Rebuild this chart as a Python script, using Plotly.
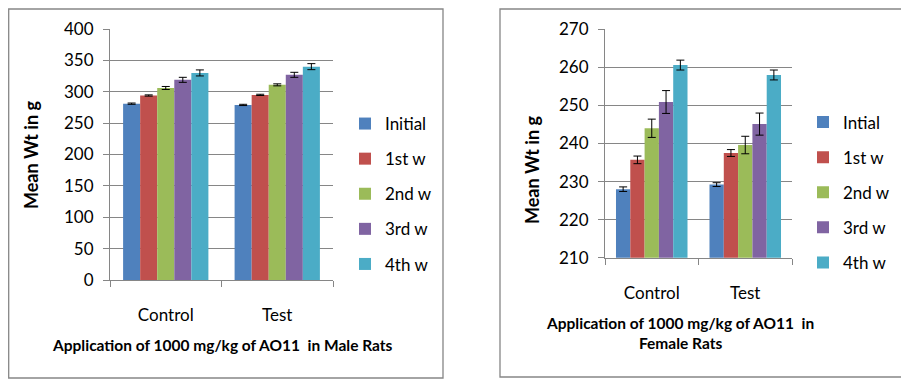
import plotly.graph_objects as go

groups = ["Control", "Test"]
male_series = ["Initial", "1st w", "2nd w", "3rd w", "4th w"]
female_series = ["Intial", "1st w", "2nd w", "3rd w", "4th w"]
colors = ["#4F81BD", "#C0504D", "#9BBB59", "#8064A2", "#4BACC6"]

male_control = [281, 294, 306, 319, 330]
male_test = [279, 295, 311, 327, 340]
male_control_err = [1, 1, 2.4, 4, 4.8]
male_test_err = [1, 1, 1.6, 4, 4.8]

female_control = [228, 235.7, 244, 250.9, 260.6]
female_test = [229.2, 237.5, 239.6, 245.1, 258]
female_control_err = [0.6, 1.0, 2.4, 3.0, 1.3]
female_test_err = [0.5, 0.9, 2.3, 2.9, 1.3]

# The page places the figure 8px from the top-left corner of the window,
# so the figure is sized and laid out in window pixels minus that offset.
OFF = 8
W, H = 909 - OFF, 382 - OFF
FONT = "Lato, 'Open Sans', sans-serif"
GRAY = "#868686"


def px(x):
    return (x - OFF) / W


def py(y):
    return 1 - (y - OFF) / H


fig = go.Figure()

for i, name in enumerate(male_series):
    fig.add_trace(go.Bar(
        x=groups, y=[male_control[i], male_test[i]], name=name,
        marker=dict(color=colors[i], line=dict(width=0)),
        error_y=dict(type="data", array=[male_control_err[i], male_test_err[i]],
                     color="black", thickness=1, width=4),
        xaxis="x", yaxis="y", legend="legend", legendgroup="m" + str(i),
    ))

for i, name in enumerate(female_series):
    fig.add_trace(go.Bar(
        x=groups, y=[female_control[i], female_test[i]], name=name,
        marker=dict(color=colors[i], line=dict(width=0)),
        error_y=dict(type="data", array=[female_control_err[i], female_test_err[i]],
                     color="black", thickness=1, width=4),
        xaxis="x2", yaxis="y2", legend="legend2", legendgroup="f" + str(i),
    ))

axis_common = dict(showline=True, linecolor=GRAY, linewidth=1, ticks="outside",
                   tickcolor=GRAY, ticklen=6, automargin=False,
                   tickfont=dict(family=FONT, size=17, color="#000"), zeroline=False)

legend_common = dict(xanchor="left", yanchor="middle", tracegroupgap=10,
                     font=dict(family=FONT, size=17, color="#000"),
                     bgcolor="rgba(0,0,0,0)", itemclick=False, itemdoubleclick=False)

fig.update_layout(
    width=W, height=H, margin=dict(l=0, r=0, t=0, b=0, autoexpand=False),
    paper_bgcolor="white", plot_bgcolor="white",
    barmode="group", bargap=0.235, bargroupgap=0,
    font=dict(family=FONT, color="#000"),
    xaxis=dict(domain=[px(110), px(333)], anchor="y", tickson="boundaries",
               ticklabelstandoff=20, **axis_common),
    yaxis=dict(domain=[py(280), py(29)], anchor="x", range=[0, 400], dtick=50,
               showgrid=True, gridcolor=GRAY, gridwidth=1, ticklabelstandoff=6, **axis_common),
    xaxis2=dict(domain=[px(605), px(792)], anchor="y2", tickson="boundaries",
                ticklabelstandoff=20, **axis_common),
    yaxis2=dict(domain=[py(257.7), py(29.3)], anchor="x2", range=[210, 270], dtick=10,
                showgrid=True, gridcolor=GRAY, gridwidth=1, ticklabelstandoff=6, **axis_common),
    legend=dict(x=px(345), y=py(194), **legend_common),
    legend2=dict(x=px(803), y=py(192.5), **legend_common),
    showlegend=True,
)

# chart frames
fig.add_shape(type="rect", xref="paper", yref="paper", x0=px(8.7), x1=px(443), y0=py(378), y1=py(9),
              line=dict(color=GRAY, width=1.3), fillcolor="rgba(0,0,0,0)", layer="below")
fig.add_shape(type="rect", xref="paper", yref="paper", x0=px(500), x1=px(902), y0=py(377), y1=py(9),
              line=dict(color=GRAY, width=1.3), fillcolor="rgba(0,0,0,0)", layer="below")

ytitle_font = dict(family=FONT, size=18, color="#000", weight="bold")
title_font = dict(family=FONT, size=15.5, color="#000", weight="bold")
anno = dict(xref="paper", yref="paper", showarrow=False, xanchor="center", yanchor="middle")
fig.add_annotation(text="Mean Wt in g", x=px(31), y=py(155), textangle=-90, font=ytitle_font, **anno)
fig.add_annotation(text="Mean Wt in g", x=px(532), y=py(170), textangle=-90, font=ytitle_font, **anno)
fig.add_annotation(text="Application of 1000 mg/kg of AO11 \u00a0in Male Rats",
                   x=px(222), y=py(345), font=title_font, **anno)
fig.add_annotation(text="Application of 1000 mg/kg of AO11 \u00a0in<br>Female Rats",
                   x=px(680), y=py(333), font=title_font, **anno)

fig.write_html("out.html")
